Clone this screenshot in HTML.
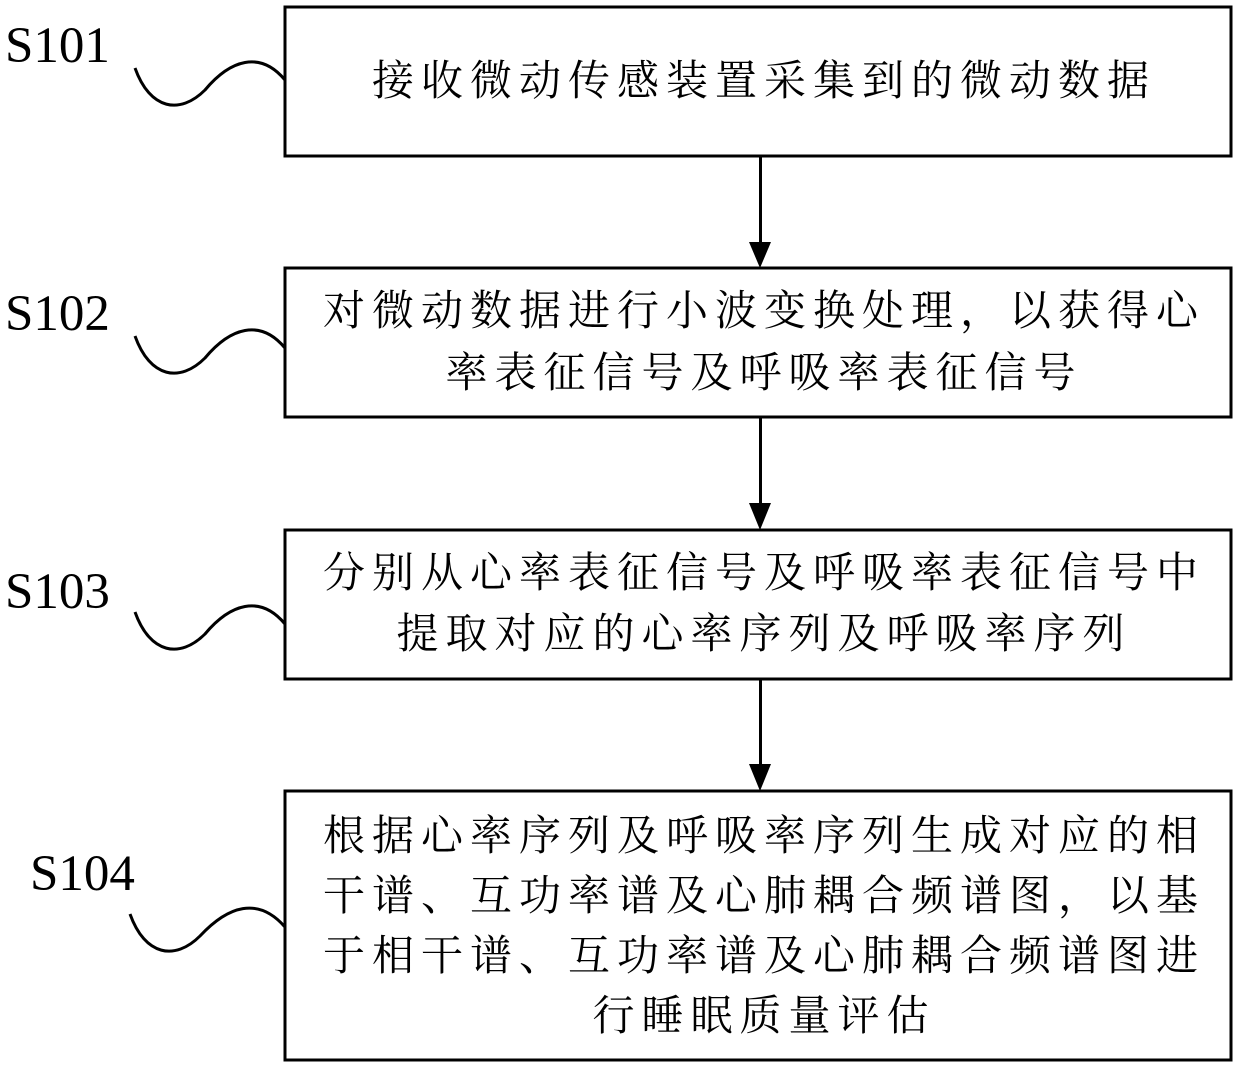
<!DOCTYPE html>
<html><head><meta charset="utf-8"><style>
body{margin:0;background:#fff;width:1240px;height:1069px;overflow:hidden}
.t{font-family:"Liberation Serif","Noto Serif CJK SC",serif;}
</style></head><body>
<svg width="1240" height="1069" xmlns="http://www.w3.org/2000/svg">
<g fill="none" stroke="#000" stroke-width="3">
<rect x="285" y="7" width="946" height="149"/>
<rect x="285" y="268" width="946" height="149"/>
<rect x="285" y="530" width="946" height="149"/>
<rect x="285" y="791" width="946" height="269"/>
<path d="M135,68 C150,110 180,115 205,90 C230,60 260,50 285,80"/>
<path d="M135,336 C150,378 180,383 205,358 C230,328 260,318 285,348"/>
<path d="M135,612 C150,654 180,659 205,634 C230,604 260,594 285,624"/>
<path d="M130,914 C145,956 175,961 200,936 C228,906 258,896 285,927"/>
</g>
<g fill="#000">
<rect x="759" y="156" width="3" height="88"/><path d="M749,242 L771,242 L760,268 Z"/>
<rect x="759" y="417" width="3" height="88"/><path d="M749,503 L771,503 L760,530 Z"/>
<rect x="759" y="679" width="3" height="88"/><path d="M749,764 L771,764 L760,791 Z"/>
</g>
<g class="t" font-size="51">
<text x="5" y="62">S101</text>
<text x="5" y="330">S102</text>
<text x="5" y="608">S103</text>
<text x="30" y="890">S104</text>
</g>
<g class="t" font-size="42" text-anchor="middle" style="letter-spacing:7px">
<text x="764" y="95">接收微动传感装置采集到的微动数据</text>
<text x="764" y="325">对微动数据进行小波变换处理，以获得心</text>
<text x="764" y="387">率表征信号及呼吸率表征信号</text>
<text x="764" y="587">分别从心率表征信号及呼吸率表征信号中</text>
<text x="764" y="648">提取对应的心率序列及呼吸率序列</text>
<text x="764" y="850">根据心率序列及呼吸率序列生成对应的相</text>
<text x="764" y="910">干谱、互功率谱及心肺耦合频谱图，以基</text>
<text x="764" y="970">于相干谱、互功率谱及心肺耦合频谱图进</text>
<text x="764" y="1030">行睡眠质量评估</text>
</g>
</svg>
</body></html>
